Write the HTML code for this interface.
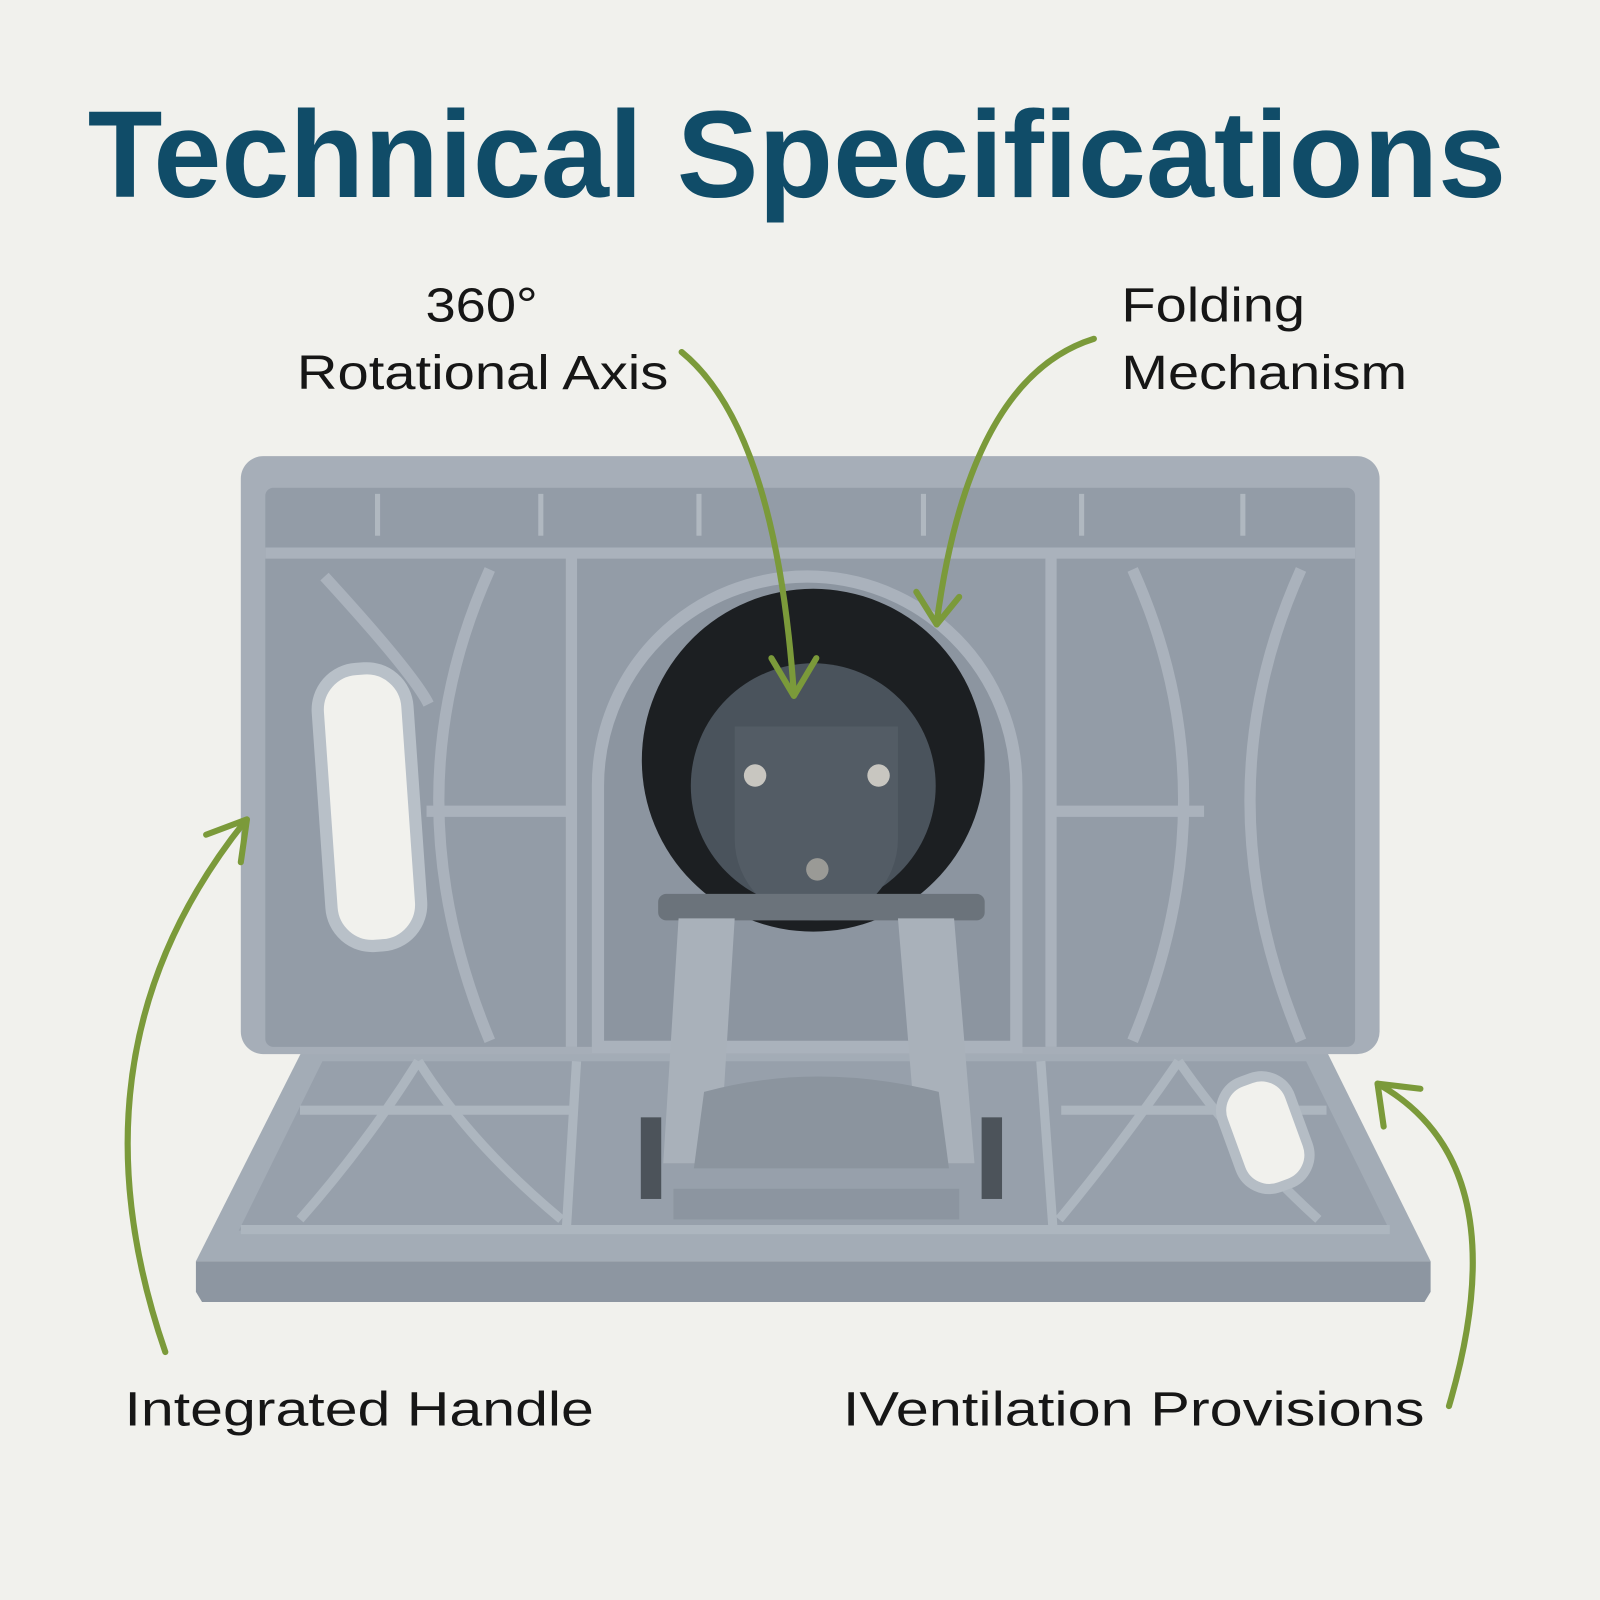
<!DOCTYPE html>
<html><head><meta charset="utf-8"><style>
html,body{margin:0;padding:0;background:#f1f1ed;}
svg{display:block}
</style></head><body>
<svg width="1600" height="1600" viewBox="0 0 1600 1600" xmlns="http://www.w3.org/2000/svg">
<rect width="1600" height="1600" fill="#f1f1ed"/>
<g transform="scale(1.0204)">
<text x="86" y="193" font-family="Liberation Sans, sans-serif" font-weight="bold" font-size="121" fill="#104c68" textLength="1390" lengthAdjust="spacingAndGlyphs">Technical Specifications</text>

<g font-family="Liberation Sans, sans-serif" font-size="47" fill="#161616">
<text x="417" y="315" textLength="110" lengthAdjust="spacingAndGlyphs">360°</text>
<text x="291" y="381" textLength="364" lengthAdjust="spacingAndGlyphs">Rotational Axis</text>
<text x="1099" y="315" textLength="180" lengthAdjust="spacingAndGlyphs">Folding</text>
<text x="1099" y="381" textLength="280" lengthAdjust="spacingAndGlyphs">Mechanism</text>
<text x="122" y="1397" textLength="460" lengthAdjust="spacingAndGlyphs">Integrated Handle</text>
<text x="826" y="1397" textLength="570" lengthAdjust="spacingAndGlyphs">IVentilation Provisions</text>
</g>

<!-- base panel -->
<polygon points="296,1030 1300,1030 1402,1236 192,1236" fill="#a3acb6"/>
<polygon points="192,1236 1402,1236 1402,1266 1396,1276 198,1276 192,1266" fill="#8d96a1"/>
<polygon points="316,1040 1280,1040 1362,1206 234,1206" fill="#97a0ab"/>
<g stroke="#adb6bf" stroke-width="9" fill="none">
<line x1="236" y1="1205" x2="1362" y2="1205"/>
<line x1="294" y1="1088" x2="565" y2="1088"/>
<line x1="1040" y1="1088" x2="1300" y2="1088"/>
<line x1="565" y1="1040" x2="555" y2="1205"/>
<line x1="1020" y1="1040" x2="1032" y2="1205"/>
<path d="M410,1040 Q360,1120 294,1195"/><path d="M410,1040 Q460,1120 550,1195"/>
<path d="M1155,1040 Q1100,1120 1038,1195"/><path d="M1155,1040 Q1210,1120 1292,1195"/>
</g>
<rect x="1205" y="1055" width="70" height="110" rx="30" fill="#f1f1ed" stroke="#b5bdc5" stroke-width="10" transform="rotate(-20 1240 1110)"/>

<!-- back panel -->
<rect x="236" y="447" width="1116" height="586" rx="22" fill="#a6aeb8"/>
<rect x="260" y="478" width="1068" height="548" rx="8" fill="#939ca7"/>
<g stroke="#aab2bc" stroke-width="11" fill="none">
<line x1="260" y1="542" x2="1328" y2="542"/>
<line x1="560" y1="542" x2="560" y2="1026"/>
<line x1="1030" y1="542" x2="1030" y2="1026"/>
<line x1="418" y1="795" x2="555" y2="795"/>
<line x1="1035" y1="795" x2="1180" y2="795"/>
<path d="M480,558 Q380,780 480,1020"/>
<path d="M318,565 Q405,660 420,690"/>
<path d="M1110,558 Q1210,780 1110,1020"/>
<path d="M1275,558 Q1175,780 1275,1020"/>
</g>
<g stroke="#b0b8c0" stroke-width="5">
<line x1="370" y1="484" x2="370" y2="525"/><line x1="530" y1="484" x2="530" y2="525"/>
<line x1="685" y1="484" x2="685" y2="525"/><line x1="905" y1="484" x2="905" y2="525"/>
<line x1="1060" y1="484" x2="1060" y2="525"/><line x1="1218" y1="484" x2="1218" y2="525"/>
</g>
<!-- arch -->
<path d="M586,1026 L586,770 A205,205 0 0 1 996,770 L996,1026 Z" fill="#8c95a0" stroke="#aab2bc" stroke-width="12"/>
<!-- handle -->
<rect x="318" y="655" width="88" height="272" rx="40" fill="#f1f1ed" stroke="#b8c0c8" stroke-width="12" transform="rotate(-4 362 790)"/>
<!-- rotator -->
<circle cx="797" cy="745" r="168" fill="#1c1f22"/>
<circle cx="797" cy="770" r="120" fill="#4a535c"/>
<path d="M720,712 L880,712 L880,822 A80,80 0 0 1 720,822 Z" fill="#535c65"/>
<circle cx="740" cy="760" r="11" fill="#c8c6c0"/>
<circle cx="861" cy="760" r="11" fill="#c8c6c0"/>
<circle cx="801" cy="852" r="11" fill="#9a9a96"/>
<!-- stand -->
<rect x="645" y="876" width="320" height="26" rx="8" fill="#6b737b"/>
<polygon points="665,900 720,900 705,1140 650,1140" fill="#a9b1ba"/>
<polygon points="880,900 935,900 955,1140 900,1140" fill="#a9b1ba"/>
<path d="M690,1070 Q800,1040 920,1070 L930,1145 L680,1145 Z" fill="#8b949e"/>
<rect x="628" y="1095" width="20" height="80" fill="#4c535a"/>
<rect x="962" y="1095" width="20" height="80" fill="#4c535a"/>
<rect x="660" y="1165" width="280" height="30" fill="#8c95a0"/>

<!-- arrows -->
<g stroke="#7b9a3a" stroke-width="6" fill="none" stroke-linecap="round" stroke-linejoin="round">
<path d="M668,345 Q760,420 778,680"/>
<path d="M756,645 L778,682 L800,645"/>
<path d="M1072,332 Q950,370 918,610"/>
<path d="M898,580 L918,612 L940,585"/>
<path d="M162,1325 Q60,1030 240,805"/>
<path d="M202,818 L242,803 L236,845"/>
<path d="M1420,1378 Q1490,1140 1350,1062"/>
<path d="M1356,1104 L1350,1062 L1392,1067"/>
</g>
</g>
</svg>
</body></html>
